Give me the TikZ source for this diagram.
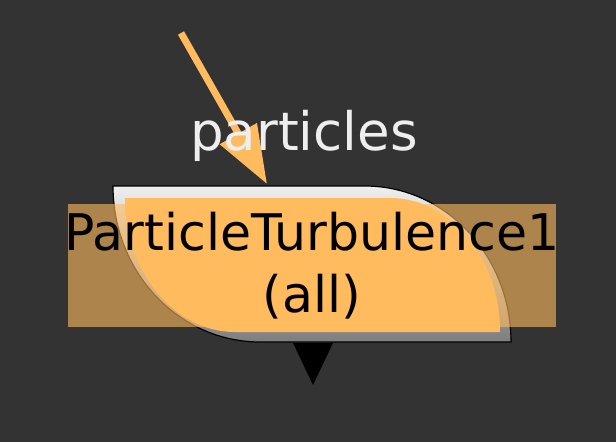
\documentclass[tikz,border=0pt]{standalone}
\usepackage{fontspec}
\setmainfont{DejaVu Sans}
\usetikzlibrary{arrows.meta}
\definecolor{bgc}{HTML}{333333}
\definecolor{nodeorange}{HTML}{FFBB5E}
\definecolor{toplite}{HTML}{EFEFEF}
\definecolor{botgray}{HTML}{7E7E7E}
\definecolor{labelgray}{HTML}{EEEEEE}
\tikzset{
  outerleaf/.style={draw=black, line width=1.2pt, top color=toplite, bottom color=botgray},
  innerleaf/.style={fill=nodeorange},
  namebox/.style={rectangle, inner sep=0pt, fill=nodeorange, fill opacity=0.6, text opacity=1,
    minimum width=488pt, minimum height=123pt, align=center, text=black,
    font=\fontsize{50.5}{62}\selectfont},
  portlabel/.style={text=labelgray, inner sep=0pt, font=\fontsize{53}{60}\selectfont},
  inarrow/.style={draw=nodeorange, line width=7pt, -{Triangle[length=58pt,width=41pt]}},
  outport/.style={fill=black}
}
\begin{document}
\begin{tikzpicture}[x=1pt,y=-1pt]
\fill[bgc] (0,0) rectangle (616,442);
\useasboundingbox (0,0) rectangle (616,442);
% outer leaf shape
\path[outerleaf] (113,186) -- (365,186)
  .. controls (445.6,186) and (511,255.8) .. (511,342)
  -- (260,342)
  .. controls (178.8,342) and (113,272.2) .. (113,186) -- cycle;
% inner orange leaf
\path[innerleaf] (125,198) -- (390,198)
  .. controls (450.8,198) and (500,258) .. (500,332)
  -- (235,332)
  .. controls (174.2,332) and (125,272) .. (125,198) -- cycle;
% output port triangle
\coordinate (p1) at (293,343);
\coordinate (p2) at (333,343);
\coordinate (p3) at (313,385);
\fill[outport] (p1) -- (p2) -- (p3) -- cycle;
% incoming arrow
\coordinate (src) at (181,33);
\coordinate (dst) at (267,184);
\draw[inarrow] (src) -- (dst);
% label of the input port
\node[portlabel, anchor=base] (plabel) at (304,150) {particles};
% name box
\node[namebox] (name) at (312,265.5) {\makebox[488pt]{ParticleTurbulence1}\\(all)};
\end{tikzpicture}
\end{document}
